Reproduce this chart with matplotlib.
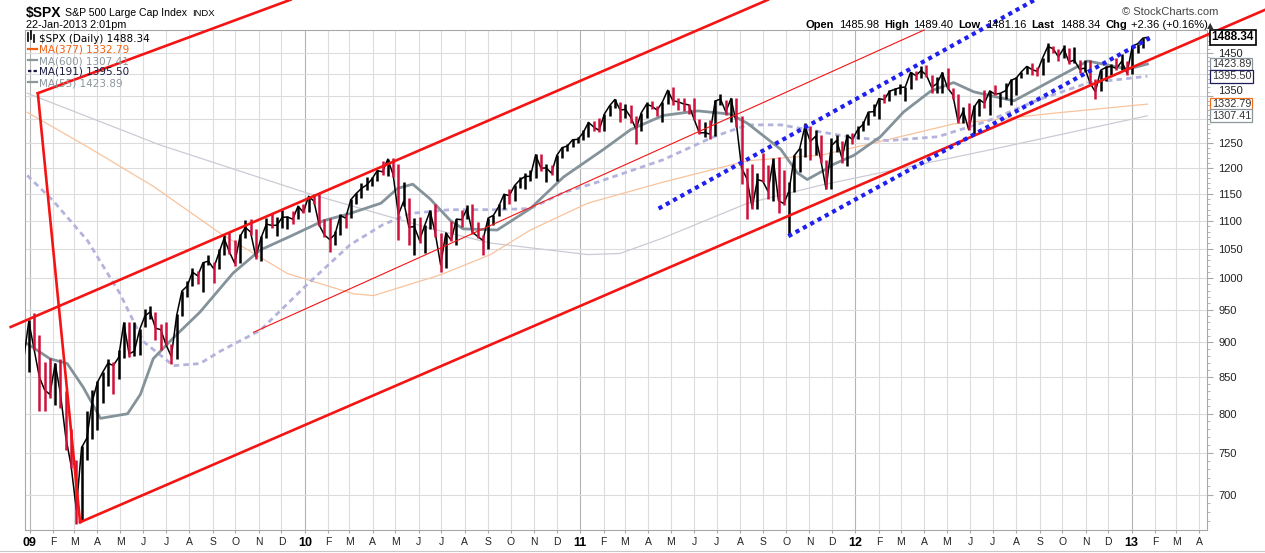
import matplotlib
matplotlib.use('Agg')
import matplotlib.pyplot as plt
import matplotlib.dates as mdates
import matplotlib.transforms as mtransforms
from matplotlib.lines import Line2D
from matplotlib.ticker import FixedLocator, FixedFormatter, NullFormatter
import pandas as pd

plt.rcParams['font.family'] = ['Liberation Sans', 'DejaVu Sans']

# weekly bars (week ending Dec 26 2008 .. Jan 22 2013)
first_week = '2008-12-24'
close = [872.8, 931.8, 890.4, 850.1, 832.0, 825.9, 868.6, 826.8, 770.0, 735.1, 683.4, 756.6, 768.5, 815.9,
         842.5, 856.6, 869.6, 866.2, 877.5, 929.2, 882.9, 887.0, 919.1, 940.1, 946.2, 921.2, 918.9, 896.4,
         879.1, 940.4, 979.3, 987.5, 1010.5, 1004.1, 1026.1, 1028.9, 1016.4, 1042.7, 1068.3, 1044.4, 1025.2,
         1071.5, 1087.7, 1079.6, 1036.2, 1069.3, 1093.5, 1091.4, 1091.5, 1106.0, 1106.4, 1102.5, 1126.5, 1115.1,
         1145.0, 1136.0, 1091.8, 1073.9, 1066.2, 1075.5, 1109.2, 1104.5, 1138.7, 1150.0, 1159.9, 1166.6, 1178.1,
         1194.4, 1192.1, 1217.3, 1186.7, 1110.9, 1135.7, 1087.7, 1089.4, 1064.9, 1091.6, 1117.5, 1076.8, 1022.6,
         1078.0, 1064.9, 1102.7, 1101.6, 1121.6, 1079.3, 1071.7, 1064.6, 1104.5, 1109.6, 1125.6, 1148.7, 1146.2,
         1165.2, 1176.2, 1183.1, 1183.3, 1225.9, 1199.2, 1199.7, 1189.4, 1224.7, 1240.4, 1243.9, 1256.8, 1257.6,
         1271.5, 1293.2, 1283.4, 1276.3, 1310.9, 1329.2, 1343.0, 1319.9, 1321.2, 1304.3, 1279.2, 1313.8, 1332.4,
         1328.2, 1319.7, 1337.4, 1363.6, 1340.2, 1337.8, 1333.3, 1331.1, 1300.2, 1271.0, 1271.5, 1268.5, 1339.7,
         1343.8, 1316.1, 1345.0, 1292.3, 1199.4, 1178.8, 1123.5, 1176.8, 1174.0, 1154.2, 1216.0, 1136.4, 1131.4,
         1155.5, 1224.6, 1238.3, 1285.1, 1253.2, 1263.9, 1215.7, 1158.7, 1244.3, 1255.2, 1219.7, 1265.3, 1257.6,
         1277.8, 1289.1, 1315.4, 1316.3, 1344.9, 1342.6, 1361.2, 1365.7, 1369.6, 1370.9, 1404.2, 1397.1, 1408.5,
         1398.1, 1370.3, 1378.5, 1403.4, 1369.1, 1353.4, 1295.2, 1317.8, 1278.0, 1325.7, 1342.8, 1335.0, 1362.2,
         1354.7, 1356.8, 1362.7, 1386.0, 1391.0, 1405.9, 1418.2, 1411.1, 1406.6, 1437.9, 1465.8, 1460.2, 1440.7,
         1460.9, 1428.6, 1433.2, 1411.9, 1414.2, 1379.9, 1359.9, 1409.2, 1416.2, 1418.1, 1413.6, 1430.2, 1402.4,
         1466.5, 1472.1, 1486.0, 1488.3]
high = [880, 934, 944, 911, 871, 877, 870, 876, 831, 780, 741, 759, 803, 832,
        845, 857, 875, 871, 888, 930, 931, 930, 920, 951, 956, 946, 927, 931,
        898, 943, 979, 996, 1018, 1013, 1027, 1039, 1028, 1049, 1074, 1080, 1066,
        1076, 1101, 1102, 1085, 1072, 1105, 1113, 1107, 1119, 1108, 1118, 1127, 1130,
        1145, 1150, 1151, 1103, 1105, 1081, 1112, 1112, 1139, 1151, 1170, 1181, 1181,
        1195, 1214, 1218, 1220, 1207, 1173, 1141, 1104, 1106, 1092, 1120, 1131, 1077,
        1078, 1099, 1103, 1120, 1129, 1130, 1097, 1075, 1105, 1110, 1131, 1149, 1159,
        1167, 1182, 1190, 1196, 1228, 1227, 1207, 1206, 1225, 1241, 1247, 1259, 1262,
        1278, 1294, 1296, 1302, 1311, 1330, 1344, 1337, 1333, 1330, 1308, 1314, 1337,
        1339, 1329, 1338, 1364, 1370, 1346, 1346, 1334, 1346, 1300, 1295, 1299, 1341,
        1356, 1342, 1347, 1346, 1307, 1199, 1208, 1190, 1230, 1205, 1220, 1222, 1195,
        1172, 1225, 1239, 1293, 1285, 1277, 1267, 1216, 1260, 1267, 1255, 1269, 1270,
        1285, 1297, 1316, 1333, 1345, 1355, 1364, 1368, 1378, 1372, 1406, 1408, 1419,
        1422, 1398, 1393, 1406, 1415, 1369, 1355, 1327, 1335, 1330, 1344, 1364, 1362,
        1375, 1357, 1380, 1389, 1394, 1406, 1419, 1426, 1416, 1438, 1474, 1467, 1460,
        1470, 1462, 1465, 1434, 1434, 1434, 1389, 1409, 1420, 1424, 1438, 1448, 1430,
        1467, 1472, 1486, 1489.4]
low = [857, 857, 888, 804, 804, 821, 812, 808, 754, 731, 667, 672, 741, 768,
       779, 814, 838, 826, 847, 877, 878, 880, 881, 923, 935, 903, 888, 896,
       869, 875, 940, 969, 987, 991, 978, 1022, 992, 1015, 1040, 1041, 1020,
       1026, 1069, 1074, 1033, 1029, 1069, 1086, 1073, 1086, 1085, 1094, 1103, 1114,
       1115, 1131, 1090, 1071, 1044, 1057, 1075, 1087, 1104, 1131, 1141, 1156, 1165,
       1174, 1186, 1183, 1181, 1066, 1126, 1056, 1040, 1060, 1042, 1084, 1071, 1011,
       1018, 1063, 1056, 1089, 1102, 1076, 1069, 1040, 1049, 1092, 1108, 1122, 1131,
       1136, 1160, 1159, 1175, 1180, 1194, 1173, 1186, 1174, 1219, 1234, 1242, 1251,
       1257, 1262, 1275, 1273, 1276, 1307, 1324, 1294, 1302, 1291, 1249, 1276, 1302,
       1322, 1306, 1295, 1332, 1330, 1319, 1318, 1311, 1299, 1268, 1262, 1259, 1265,
       1331, 1309, 1295, 1283, 1168, 1102, 1122, 1121, 1172, 1140, 1137, 1114, 1129,
       1075, 1154, 1191, 1222, 1215, 1226, 1209, 1158, 1158, 1231, 1209, 1203, 1248,
       1258, 1275, 1287, 1306, 1300, 1336, 1340, 1352, 1355, 1340, 1366, 1386, 1392,
       1393, 1357, 1358, 1358, 1367, 1343, 1292, 1291, 1277, 1266, 1306, 1324, 1309,
       1353, 1326, 1345, 1330, 1354, 1391, 1400, 1398, 1397, 1398, 1429, 1450, 1430,
       1439, 1425, 1426, 1403, 1405, 1377, 1343, 1362, 1385, 1399, 1411, 1410, 1398,
       1401, 1451, 1461, 1481.2]

# moving averages
ma55_dates = ['2008-12-29', '2009-01-28', '2009-02-20', '2009-03-13', '2009-04-05', '2009-05-11', '2009-05-28',
              '2009-06-14', '2009-07-11', '2009-08-15', '2009-09-28', '2009-11-03', '2009-12-13', '2010-01-26',
              '2010-03-02', '2010-04-12', '2010-05-04', '2010-05-24', '2010-06-16', '2010-07-13', '2010-07-30',
              '2010-09-13', '2010-10-27', '2010-12-10', '2011-02-01', '2011-03-09', '2011-04-21', '2011-06-06',
              '2011-07-19', '2011-08-11', '2011-09-24', '2011-10-16', '2011-10-29', '2011-11-20', '2011-12-03',
              '2011-12-30', '2012-02-03', '2012-03-05', '2012-04-10', '2012-05-10', '2012-06-06', '2012-07-02',
              '2012-07-29', '2012-08-30', '2012-10-12', '2012-11-04', '2012-12-04', '2012-12-27', '2013-01-22']
ma55_vals = [898, 876, 869, 836, 794, 800, 826, 876, 907, 946, 1009, 1048, 1072, 1100, 1113, 1132, 1160, 1168,
             1140, 1100, 1085, 1083, 1122, 1182, 1237, 1278, 1308, 1318, 1311, 1291, 1237, 1190, 1177, 1195, 1207,
             1225, 1263, 1316, 1362, 1381, 1360, 1350, 1340, 1369, 1409, 1431, 1420, 1412, 1423.9]

ma191_dates = ['2008-12-29', '2009-02-01', '2009-03-19', '2009-05-01', '2009-06-01', '2009-07-11', '2009-08-15',
               '2009-09-11', '2009-11-03', '2010-01-04', '2010-03-02', '2010-04-15', '2010-05-21', '2010-07-13',
               '2010-09-13', '2010-10-27', '2010-12-10', '2011-01-24', '2011-04-21', '2011-06-27', '2011-08-11',
               '2011-09-24', '2011-12-26', '2012-02-13', '2012-04-19', '2012-06-24', '2012-08-30', '2012-11-04',
               '2013-01-22']
ma191_vals = [1185, 1137, 1064, 975, 901, 866, 869, 887, 918, 990, 1057, 1093, 1113, 1120, 1120, 1122, 1152,
              1172, 1216, 1263, 1288, 1288, 1262, 1255, 1263, 1296, 1342, 1380, 1395.5]

ma377_dates = ['2008-12-29', '2009-03-19', '2009-06-14', '2009-09-11', '2009-12-09', '2010-03-06', '2010-04-02',
               '2010-06-30', '2010-09-04', '2010-10-27', '2011-01-11', '2011-04-21', '2011-08-11', '2011-10-16',
               '2011-11-16', '2012-02-13', '2012-05-10', '2012-09-20', '2013-01-22']
ma377_vals = [1315, 1242, 1164, 1077, 1008, 975, 972, 1006, 1040, 1083, 1132, 1172, 1214, 1222, 1225, 1257,
              1290, 1313, 1332.8]

ma600_dates = ['2008-12-29', '2009-06-23', '2010-01-04', '2010-06-16', '2010-09-04', '2011-01-11', '2011-02-23',
               '2011-04-21', '2011-08-11', '2011-11-16', '2012-06-24', '2013-01-22']
ma600_vals = [1357, 1246, 1151, 1086, 1060, 1040, 1042, 1069, 1132, 1166, 1235, 1307.4]

# hand-drawn trendlines: (start date, start price, end date, end price)
red_thick = [('2009-01-12', 1357, '2009-12-13', 1583),
             ('2009-01-12', 1357, '2009-03-09', 669),
             ('2009-03-09', 669, '2013-06-27', 1557),
             ('2008-12-07', 923, '2011-09-07', 1583)]
red_thin = [('2009-10-25', 915, '2012-04-01', 1506)]
blue_dotted = [('2011-04-15', 1122, '2012-08-26', 1583),
               ('2011-10-04', 1072, '2013-01-25', 1486)]

right_boxes = [('1488.34', 1488.34, 'black', True),
               ('1423.89', 1423.89, '#8c979c', False),
               ('1395.50', 1395.50, '#1c1c5c', False),
               ('1332.79', 1332.79, '#f07020', False),
               ('1307.41', 1307.41, '#8c979c', False)]

levels = list(range(700, 1451, 50))
hidden_levels = [1300, 1400]  # covered by the value boxes on the original

W, H = 1265, 553
fig = plt.figure(figsize=(W / 100, H / 100), dpi=100)
ax = fig.add_axes([25 / W, 23 / H, 1182 / W, 500 / H])


def fx(x):
    return x / W


def fy(y):
    return 1 - y / H


weeks = pd.date_range(first_week, periods=len(close), freq='W-WED')
colors = ['black' if i == 0 or close[i] >= close[i - 1] else '#d0103a' for i in range(len(close))]

ax.set_yscale('log')
ax.set_ylim(660.5, 1506)
ax.set_xlim(mdates.datestr2num('2008-12-26'), mdates.datestr2num('2013-04-11'))

# grid
months = pd.date_range('2009-01-01', '2013-04-01', freq='MS')
for m in months:
    ax.axvline(m, color='#b4b4b4' if m.month == 1 else '#dcdcdc', lw=0.8, zorder=0)
for lv in levels:
    ax.axhline(lv, color='#dcdcdc', lw=0.8, zorder=0)

# moving averages
ax.plot(pd.to_datetime(ma600_dates), ma600_vals, color='#cbcbd6', lw=0.9, zorder=2)
ax.plot(pd.to_datetime(ma377_dates), ma377_vals, color='#f8c39c', lw=0.9, zorder=2)
ax.plot(pd.to_datetime(ma191_dates), ma191_vals, color='#b3b3de', lw=2.0, ls=(0, (2, 1.5)), zorder=2)
ax.plot(pd.to_datetime(ma55_dates), ma55_vals, color='#84939a', lw=2.0, zorder=3)

# price bars
ax.plot(weeks, close, color='black', lw=1.1, zorder=4)
ax.vlines(weeks, low, high, colors=colors, lw=1.8, zorder=4)

# trendlines (allowed to run outside the plot like the drawing tool)
for d0, p0, d1, p1 in red_thick:
    ax.plot(pd.to_datetime([d0, d1]), [p0, p1], color='#f41414', lw=1.9, clip_on=False, zorder=6)
for d0, p0, d1, p1 in red_thin:
    ax.plot(pd.to_datetime([d0, d1]), [p0, p1], color='#f41414', lw=0.8, clip_on=False, zorder=6)
for d0, p0, d1, p1 in blue_dotted:
    ax.plot(pd.to_datetime([d0, d1]), [p0, p1], color='#1f1ff0', lw=3.0, ls=(0, (1, 1)),
            clip_on=False, zorder=6)

# axes styling
for s in ax.spines.values():
    s.set_color('#a8a8a8')
    s.set_linewidth(0.8)
ax.yaxis.tick_right()
ax.yaxis.set_major_locator(FixedLocator(levels))
ax.yaxis.set_major_formatter(FixedFormatter(['' if v in hidden_levels else str(v) for v in levels]))
ax.yaxis.set_minor_locator(FixedLocator(range(670, 1500, 10)))
ax.yaxis.set_minor_formatter(NullFormatter())
ax.tick_params(axis='y', which='major', length=4, color='#a8a8a8', pad=4, labelsize=8, labelcolor='#222222')
ax.tick_params(axis='y', which='minor', length=2, color='#a8a8a8')
for lab in ax.get_yticklabels():
    if lab.get_text() == '1350':
        lab.set_va('bottom')

xlabels = [("%02d" % (m.year % 100)) if m.month == 1 else m.strftime('%b')[0] for m in months]
ax.set_xticks(months)
ax.set_xticklabels(xlabels)
ax.tick_params(axis='x', length=2, color='#a8a8a8', pad=3, labelsize=7.5, labelcolor='#222222')
for lab, m in zip(ax.get_xticklabels(), months):
    if m.month == 1:
        lab.set_fontweight('bold')
        lab.set_fontsize(9)
        lab.set_color('black')

# right-hand value boxes
trans = mtransforms.blended_transform_factory(ax.transAxes, ax.transData)
for txt, val, ec, bold in right_boxes:
    ax.text(1.004, val, txt, transform=trans, ha='left', va='center', fontsize=8.5 if bold else 7.8,
            fontweight='bold' if bold else 'normal', color='black' if bold else '#333333', zorder=10,
            bbox=dict(boxstyle='square,pad=0.12', fc='white', ec=ec, lw=1.2 if bold else 0.9), clip_on=False)

# header
fig.text(fx(26), fy(17), '$SPX', fontsize=10, fontweight='bold', color='black')
fig.text(fx(65), fy(16), 'S&P 500 Large Cap Index', fontsize=7.6, color='black')
fig.text(fx(192), fy(16), 'INDX', fontsize=6.8, color='black')
fig.text(fx(26), fy(28), '22-Jan-2013 2:01pm', fontsize=7.8, color='black')
fig.text(fx(1122), fy(15), '\u00a9 StockCharts.com', fontsize=8, color='#444444')

hdr = [(806, 'Open', True), (839, '1485.98', False), (884, 'High', True), (913, '1489.40', False),
       (958, 'Low', True), (986, '1481.16', False), (1031, 'Last', True), (1060, '1488.34', False),
       (1105, 'Chg', True), (1131, '+2.36 (+0.16%)', False)]
for x, t, b in hdr:
    fig.text(fx(x), fy(28), t, fontsize=8, fontweight='bold' if b else 'normal', color='black')
fig.text(fx(1207), fy(28), '\u25b2', fontsize=6, color='#333333', family='DejaVu Sans')

# legend in the top-left corner of the plot
legend_rows = [('$SPX (Daily) 1488.34', 'black', None, None),
               ('MA(377) 1332.79', '#f06010', '#f06010', '-'),
               ('MA(600) 1307.41', '#8c979c', '#8c979c', '-'),
               ('MA(191) 1395.50', '#1a1a40', '#1a1a40', '--'),
               ('MA(55) 1423.89', '#8c979c', '#8c979c', '-')]
for i, (t, tc, lc, ls) in enumerate(legend_rows):
    y = 38 + i * 11
    fig.text(fx(39), fy(y + 4), t, fontsize=7.5, color=tc, family='DejaVu Sans', zorder=7)
    if lc is not None:
        fig.add_artist(Line2D([fx(28), fx(37)], [fy(y), fy(y)], color=lc, lw=1.6,
                              ls=(0, (1.5, 1)) if ls == '--' else '-'))
    else:
        for k, (a, b) in enumerate([(33, 41), (31, 39), (35, 42)]):
            fig.add_artist(Line2D([fx(28 + k * 3), fx(28 + k * 3)], [fy(a), fy(b)], color='black', lw=1.2))

# separator under the axis
fig.add_artist(Line2D([0, 1], [fy(551), fy(551)], color='#c8c8c8', lw=0.8))

fig.savefig('out.png', dpi=100)
